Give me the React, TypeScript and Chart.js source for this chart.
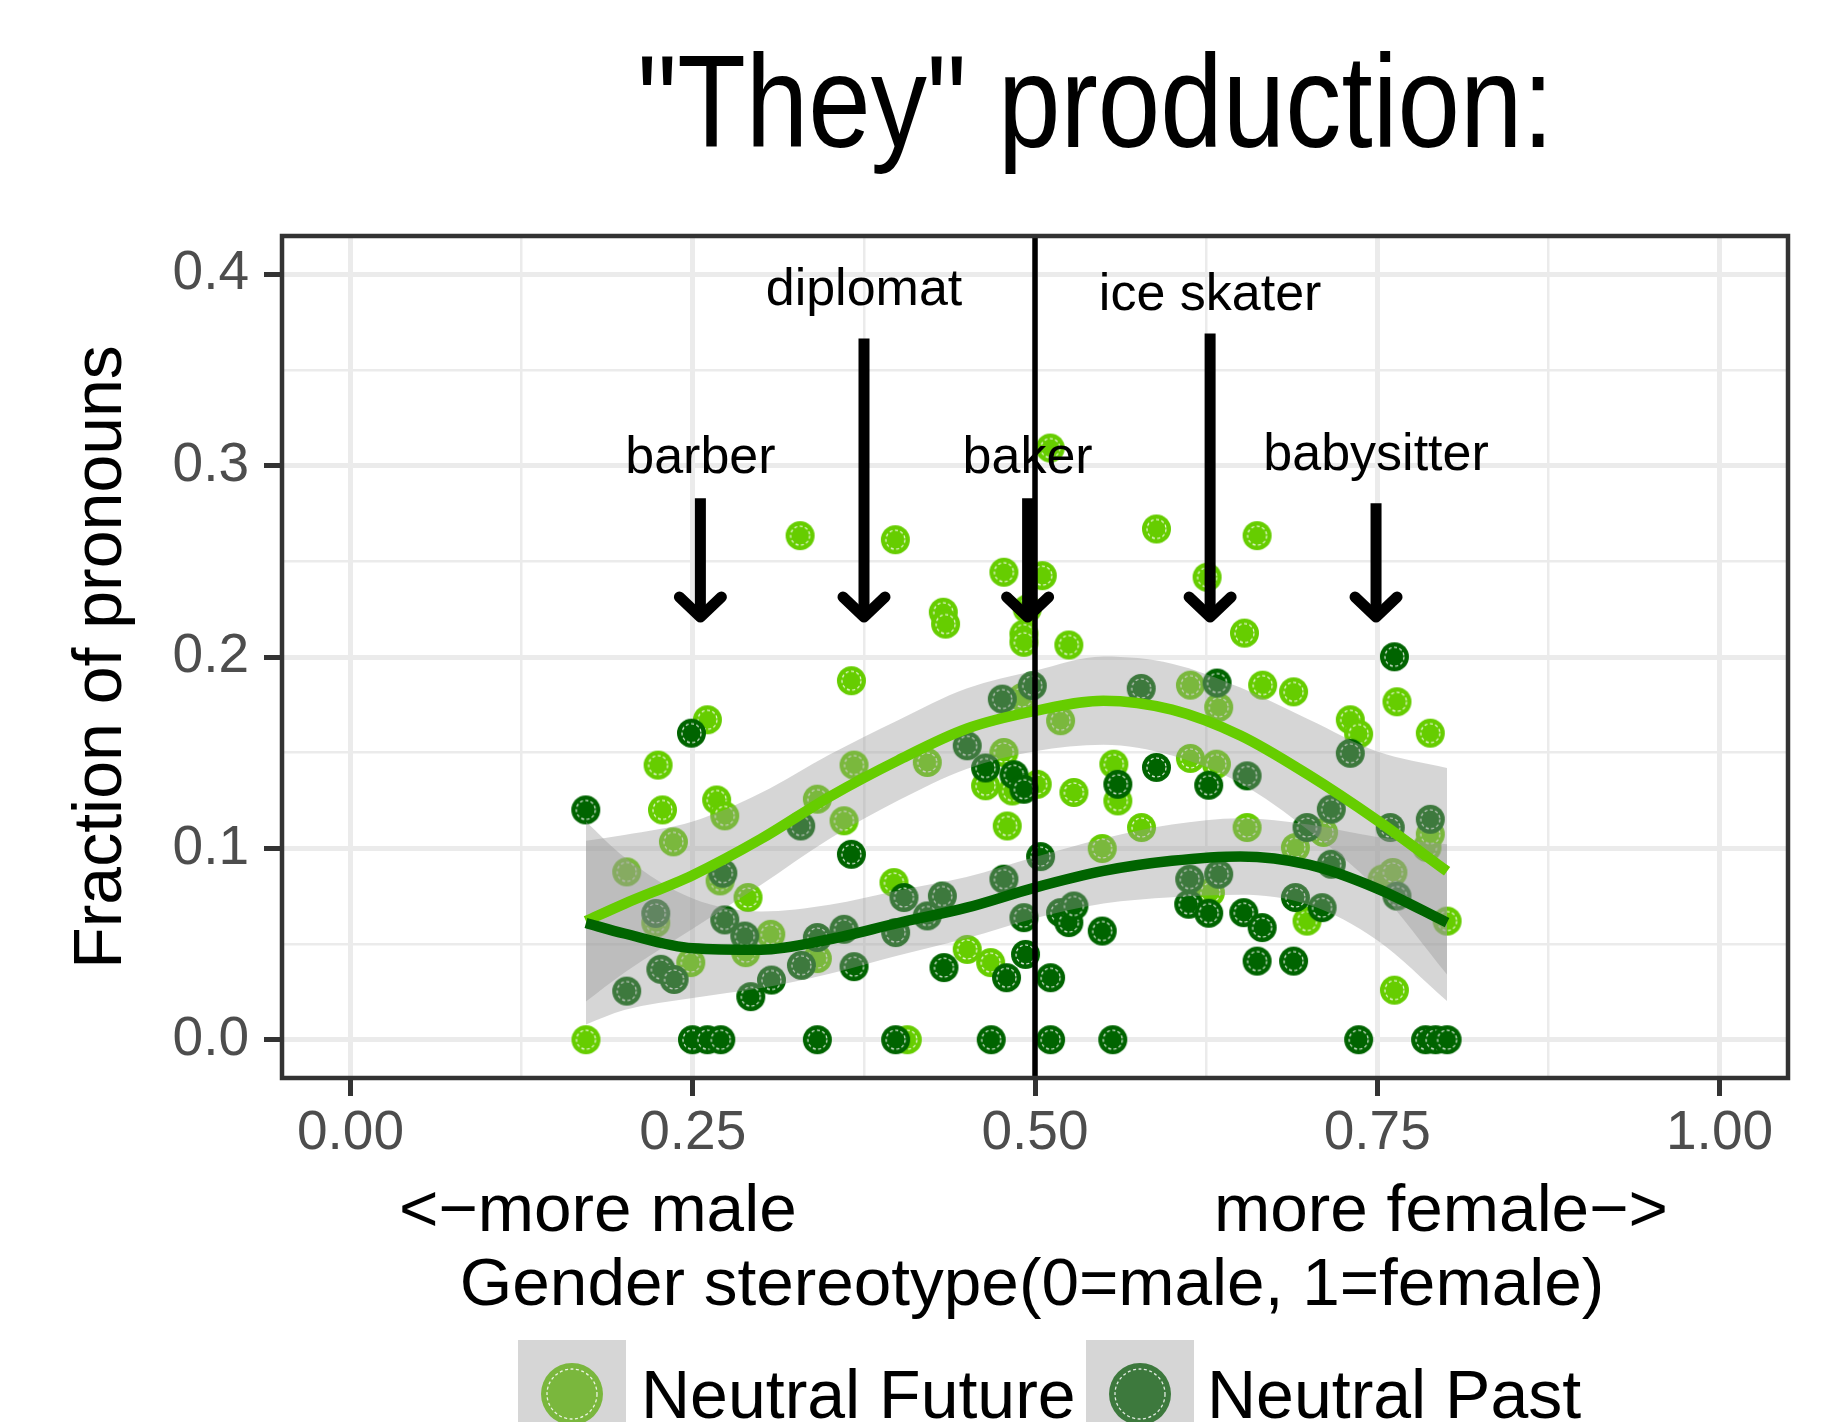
import React, { useEffect, useRef } from 'react';
import { Chart, registerables } from 'chart.js';

Chart.register(...registerables);

const FONT = '"Liberation Sans", Arial, Helvetica, sans-serif';

const titleText = '"They" production:';
const yAxisTitle = 'Fraction of pronouns';
const xAxisLeftNote = '<\u2212more male';
const xAxisRightNote = 'more female\u2212>';
const xAxisTitle = 'Gender stereotype(0=male, 1=female)';
const seriesNames = ['Neutral Future', 'Neutral Past'];

const xMajorTicks = [0, 0.25, 0.5, 0.75, 1];
const xMinorTicks = [0.125, 0.375, 0.625, 0.875];
const xTickLabels = ['0.00', '0.25', '0.50', '0.75', '1.00'];
const yMajorTicks = [0, 0.1, 0.2, 0.3, 0.4];
const yMinorTicks = [0.05, 0.15, 0.25, 0.35];
const yTickLabels = ['0.0', '0.1', '0.2', '0.3', '0.4'];

const futurePoints: [number, number][] = [
  [0.172, 0.0], [0.2018, 0.0877], [0.223, 0.061], [0.2247, 0.1435], [0.2279, 0.1201],
  [0.2359, 0.1034], [0.2486, 0.0403], [0.2607, 0.1672], [0.2675, 0.1253], [0.27, 0.083],
  [0.2734, 0.117], [0.2887, 0.0455], [0.2904, 0.0743], [0.307, 0.0551], [0.3284, 0.2634],
  [0.341, 0.1257], [0.341, 0.0424], [0.3605, 0.1144], [0.3659, 0.1876], [0.3678, 0.1435],
  [0.397, 0.0821], [0.398, 0.2613], [0.4067, 0.0], [0.4213, 0.1449], [0.433, 0.2234],
  [0.4347, 0.2172], [0.4505, 0.0472], [0.4639, 0.1327], [0.4676, 0.0403], [0.4773, 0.2443],
  [0.4773, 0.1501], [0.4797, 0.1117], [0.4834, 0.13], [0.4907, 0.1789], [0.4919, 0.212],
  [0.4919, 0.2077], [0.4943, 0.2251], [0.5016, 0.1335], [0.5053, 0.2425], [0.5111, 0.3092],
  [0.5187, 0.1667], [0.5247, 0.2063], [0.5284, 0.1292], [0.5491, 0.0999], [0.5576, 0.144],
  [0.5605, 0.1248], [0.5778, 0.1109], [0.5887, 0.2669], [0.6135, 0.1853], [0.6135, 0.147],
  [0.6257, 0.2417], [0.6281, 0.0769], [0.6325, 0.144], [0.6342, 0.1737], [0.653, 0.2125],
  [0.6549, 0.1109], [0.6622, 0.2634], [0.6663, 0.1853], [0.6889, 0.1818], [0.6902, 0.1004],
  [0.6987, 0.062], [0.7108, 0.1083], [0.7303, 0.1672], [0.7364, 0.1597], [0.7535, 0.0839],
  [0.7614, 0.0874], [0.7625, 0.0259], [0.7644, 0.1766], [0.7863, 0.1004], [0.7887, 0.1602],
  [0.7887, 0.1074], [0.801, 0.062],
];

const pastPoints: [number, number][] = [
  [0.1719, 0.1201], [0.2018, 0.0254], [0.223, 0.066], [0.2267, 0.0368], [0.2364, 0.0315],
  [0.2491, 0.1602], [0.2498, 0], [0.2607, 0], [0.2705, 0], [0.272, 0.087],
  [0.2734, 0.0626], [0.288, 0.0542], [0.2924, 0.0225], [0.3075, 0.0312], [0.3289, 0.1117],
  [0.3294, 0.0389], [0.341, 0.0534], [0.341, 0], [0.3605, 0.0577], [0.3659, 0.0969],
  [0.3678, 0.0382], [0.3982, 0.056], [0.3982, 0], [0.4043, 0.0743], [0.4213, 0.0647],
  [0.4323, 0.0751], [0.4335, 0.0377], [0.4505, 0.1536], [0.4639, 0.142], [0.468, 0],
  [0.4761, 0.178], [0.4773, 0.0839], [0.4792, 0.0324], [0.4846, 0.1385], [0.4919, 0.1309],
  [0.4919, 0.0638], [0.4931, 0.0446], [0.498, 0.185], [0.5041, 0.0957], [0.5114, 0.0324],
  [0.5114, 0], [0.5187, 0.0664], [0.5247, 0.0612], [0.5284, 0.0699], [0.5491, 0.0568],
  [0.5568, 0], [0.5605, 0.1335], [0.5776, 0.1836], [0.5887, 0.1423], [0.6123, 0.0708],
  [0.613, 0.0839], [0.6269, 0.133], [0.6269, 0.0661], [0.633, 0.1864], [0.6342, 0.0865],
  [0.6525, 0.0664], [0.6549, 0.1379], [0.6622, 0.0411], [0.6659, 0.0586], [0.6889, 0.0411],
  [0.6902, 0.0743], [0.6987, 0.1109], [0.7097, 0.069], [0.7164, 0.1205], [0.7164, 0.0917],
  [0.7303, 0.1497], [0.7364, 0], [0.7595, 0.1109], [0.7625, 0.2001], [0.7644, 0.0751],
  [0.7853, 0], [0.7887, 0.1152], [0.7926, 0], [0.801, 0],
];

const fitX = [0.172, 0.2, 0.25, 0.3, 0.35, 0.4, 0.45, 0.5, 0.55, 0.6, 0.65, 0.7, 0.75, 0.801];
const futureFit = [0.062, 0.071, 0.086, 0.105, 0.127, 0.146, 0.1625, 0.1718, 0.1772, 0.1725, 0.159, 0.1383, 0.1146, 0.088];
const futureUpper = [0.104, 0.107, 0.114, 0.129, 0.149, 0.167, 0.1835, 0.1928, 0.2002, 0.1965, 0.184, 0.1673, 0.1506, 0.142];
const futureLower = [0.02, 0.035, 0.058, 0.081, 0.105, 0.125, 0.1415, 0.1508, 0.1542, 0.1485, 0.134, 0.1093, 0.0786, 0.034];
const pastFit = [0.061, 0.0555, 0.0478, 0.047, 0.0525, 0.061, 0.069, 0.0795, 0.0882, 0.0935, 0.0958, 0.0915, 0.079, 0.0612];
const pastUpper = [0.114, 0.0955, 0.0738, 0.067, 0.0705, 0.078, 0.085, 0.0955, 0.1052, 0.1125, 0.1158, 0.1125, 0.106, 0.1022];
const pastLower = [0.008, 0.0155, 0.0218, 0.027, 0.0345, 0.044, 0.053, 0.0635, 0.0712, 0.0745, 0.0758, 0.0705, 0.052, 0.0202];

const refLineX = 0.5;
const annotationLabels = ['barber', 'diplomat', 'baker', 'ice skater', 'babysitter'];
const annotationX = [0.2556, 0.3751, 0.4946, 0.6279, 0.7491];
const labelBaselineY = [0.296, 0.3839, 0.296, 0.3813, 0.2977];
const arrowStartY = [0.2829, 0.3665, 0.2829, 0.3691, 0.2803];
const arrowEndY = [0.2209, 0.2209, 0.2209, 0.2209, 0.2209];

const FUTURE = '#66CD00';
const PAST = '#006400';
const RIBBON = 'rgba(153,153,153,0.4)';

function makeDot(color: string, r: number, ringR: number) {
  const c = document.createElement('canvas');
  const s = Math.ceil(2 * r + 4);
  c.width = s;
  c.height = s;
  const g = c.getContext('2d')!;
  g.fillStyle = color;
  g.beginPath();
  g.arc(s / 2, s / 2, r, 0, Math.PI * 2);
  g.fill();
  g.strokeStyle = 'rgba(255,255,255,0.9)';
  g.lineWidth = 1.2;
  g.setLineDash([3, 2.5]);
  g.beginPath();
  g.arc(s / 2, s / 2, ringR, 0, Math.PI * 2);
  g.stroke();
  return c;
}

const near = (arr: number[], v: number) => arr.findIndex((a) => Math.abs(a - v) < 1e-9);

export default function App() {
  const ref = useRef<HTMLCanvasElement>(null);

  useEffect(() => {
    const canvas = ref.current!;
    const futureDot = makeDot(FUTURE, 14.5, 9.5);
    const pastDot = makeDot(PAST, 14.5, 9.5);
    const xy = (xs: number[], ys: number[]) => xs.map((x, i) => ({ x, y: ys[i] }));
    const pts = (p: [number, number][]) => p.map(([x, y]) => ({ x, y }));

    const overlay = {
      id: 'overlay',
      afterDatasetsDraw(chart: any) {
        const { ctx, chartArea: a, scales } = chart;
        const xs = scales.x;
        const ys = scales.y;
        ctx.save();
        ctx.fillStyle = '#000';
        ctx.font = `52px ${FONT}`;
        ctx.textAlign = 'center';
        ctx.textBaseline = 'alphabetic';
        annotationLabels.forEach((t, i) => {
          ctx.fillText(t, xs.getPixelForValue(annotationX[i]), ys.getPixelForValue(labelBaselineY[i]));
        });
        ctx.strokeStyle = '#000';
        ctx.lineWidth = 5.5;
        ctx.lineCap = 'butt';
        const vx = xs.getPixelForValue(refLineX);
        ctx.beginPath();
        ctx.moveTo(vx, a.top);
        ctx.lineTo(vx, a.bottom);
        ctx.stroke();
        annotationX.forEach((xv, i) => {
          const px = xs.getPixelForValue(xv);
          const y1 = ys.getPixelForValue(arrowStartY[i]);
          const y2 = ys.getPixelForValue(arrowEndY[i]);
          ctx.lineWidth = 11;
          ctx.lineCap = 'butt';
          ctx.beginPath();
          ctx.moveTo(px, y1);
          ctx.lineTo(px, y2);
          ctx.stroke();
          ctx.lineCap = 'round';
          ctx.lineJoin = 'round';
          ctx.beginPath();
          ctx.moveTo(px - 21, y2 - 20);
          ctx.lineTo(px, y2);
          ctx.lineTo(px + 21, y2 - 20);
          ctx.stroke();
        });
        ctx.strokeStyle = '#333333';
        ctx.lineWidth = 4.5;
        ctx.lineCap = 'butt';
        ctx.lineJoin = 'miter';
        ctx.strokeRect(a.left, a.top, a.right - a.left, a.bottom - a.top);
        ctx.restore();
      },
      afterDraw(chart: any) {
        const { ctx } = chart;
        ctx.save();
        ctx.fillStyle = '#000';
        ctx.save();
        ctx.font = `132px ${FONT}`;
        ctx.textAlign = 'center';
        ctx.textBaseline = 'alphabetic';
        ctx.translate(1095.5, 146.7);
        ctx.scale(0.851, 1);
        ctx.fillText(titleText, 0, 0);
        ctx.restore();
        ctx.font = `67.5px ${FONT}`;
        ctx.textBaseline = 'alphabetic';
        ctx.textAlign = 'left';
        ctx.fillText(xAxisLeftNote, 399, 1231);
        ctx.textAlign = 'right';
        ctx.fillText(xAxisRightNote, 1668, 1231);
        ctx.textAlign = 'center';
        ctx.fillText(xAxisTitle, 1032, 1305);
        ctx.save();
        ctx.font = `68px ${FONT}`;
        ctx.translate(121, 657);
        ctx.rotate(-Math.PI / 2);
        ctx.textAlign = 'center';
        ctx.fillText(yAxisTitle, 0, 0);
        ctx.restore();
        const keys = [
          { x: 518, color: '#7AB73D', tx: 641 },
          { x: 1086, color: '#3D793D', tx: 1207 },
        ];
        keys.forEach((k, i) => {
          ctx.fillStyle = '#D6D6D6';
          ctx.fillRect(k.x, 1340, 108, 108);
          ctx.fillStyle = k.color;
          ctx.beginPath();
          ctx.arc(k.x + 54, 1394, 31, 0, Math.PI * 2);
          ctx.fill();
          ctx.save();
          ctx.strokeStyle = 'rgba(255,255,255,0.85)';
          ctx.lineWidth = 1.3;
          ctx.setLineDash([3, 2.5]);
          ctx.beginPath();
          ctx.arc(k.x + 54, 1394, 25, 0, Math.PI * 2);
          ctx.stroke();
          ctx.restore();
          ctx.fillStyle = '#000';
          ctx.textAlign = 'left';
          ctx.font = `68px ${FONT}`;
          ctx.fillText(seriesNames[i], k.tx, 1418);
        });
        ctx.restore();
      },
    };

    const chart = new Chart(canvas, {
      type: 'scatter',
      data: {
        datasets: [
          {
            label: 'pastFit', data: xy(fitX, pastFit), showLine: true, borderColor: PAST, borderWidth: 10.5,
            pointRadius: 0, cubicInterpolationMode: 'monotone', fill: false, order: 0,
          },
          {
            label: 'futureFit', data: xy(fitX, futureFit), showLine: true, borderColor: FUTURE, borderWidth: 10.5,
            pointRadius: 0, cubicInterpolationMode: 'monotone', fill: false, order: 0,
          },
          {
            label: 'futureUpper', data: xy(fitX, futureUpper), showLine: true, borderWidth: 0, borderColor: 'rgba(0,0,0,0)',
            backgroundColor: RIBBON, pointRadius: 0, cubicInterpolationMode: 'monotone', fill: '+1', order: 1,
          },
          {
            label: 'futureLower', data: xy(fitX, futureLower), showLine: true, borderWidth: 0, borderColor: 'rgba(0,0,0,0)',
            pointRadius: 0, cubicInterpolationMode: 'monotone', fill: false, order: 1,
          },
          {
            label: 'pastUpper', data: xy(fitX, pastUpper), showLine: true, borderWidth: 0, borderColor: 'rgba(0,0,0,0)',
            backgroundColor: RIBBON, pointRadius: 0, cubicInterpolationMode: 'monotone', fill: '+1', order: 1,
          },
          {
            label: 'pastLower', data: xy(fitX, pastLower), showLine: true, borderWidth: 0, borderColor: 'rgba(0,0,0,0)',
            pointRadius: 0, cubicInterpolationMode: 'monotone', fill: false, order: 1,
          },
          {
            label: seriesNames[1], data: pts(pastPoints), showLine: false, pointStyle: pastDot as any,
            pointRadius: 14.5, order: 2,
          },
          {
            label: seriesNames[0], data: pts(futurePoints), showLine: false, pointStyle: futureDot as any,
            pointRadius: 14.5, order: 3,
          },
        ] as any,
      },
      options: {
        responsive: false,
        maintainAspectRatio: false,
        devicePixelRatio: 1,
        animation: false,
        events: [],
        layout: { padding: { top: 236, right: 51, left: 0, bottom: 0 } },
        plugins: { legend: { display: false }, title: { display: false }, tooltip: { enabled: false } },
        scales: {
          x: {
            type: 'linear',
            min: -0.05,
            max: 1.05,
            afterBuildTicks: (s: any) => {
              s.ticks = [...xMajorTicks, ...xMinorTicks].sort((p, q) => p - q).map((v) => ({ value: v }));
            },
            afterFit: (s: any) => { s.height = 344; },
            ticks: {
              autoSkip: false, maxRotation: 0, minRotation: 0, padding: 5, color: '#4D4D4D',
              font: { family: FONT, size: 55 },
              callback: (v: any) => { const i = near(xMajorTicks, Number(v)); return i >= 0 ? xTickLabels[i] : ''; },
            },
            grid: {
              color: '#EBEBEB',
              lineWidth: (c: any) => (c.tick && near(xMajorTicks, c.tick.value) >= 0 ? 5 : 2.5),
              tickLength: 18,
              tickWidth: 5,
              tickColor: (c: any) => (c.tick && near(xMajorTicks, c.tick.value) >= 0 ? '#333333' : 'rgba(0,0,0,0)'),
            },
            border: { display: false },
          },
          y: {
            type: 'linear',
            min: -0.02,
            max: 0.42,
            afterBuildTicks: (s: any) => {
              s.ticks = [...yMajorTicks, ...yMinorTicks].sort((p, q) => p - q).map((v) => ({ value: v }));
            },
            afterFit: (s: any) => { s.width = 282; },
            ticks: {
              autoSkip: false, padding: 15, color: '#4D4D4D',
              font: { family: FONT, size: 55 },
              callback: (v: any) => { const i = near(yMajorTicks, Number(v)); return i >= 0 ? yTickLabels[i] : ''; },
            },
            grid: {
              color: '#EBEBEB',
              lineWidth: (c: any) => (c.tick && near(yMajorTicks, c.tick.value) >= 0 ? 5 : 2.5),
              tickLength: 18,
              tickWidth: 5,
              tickColor: (c: any) => (c.tick && near(yMajorTicks, c.tick.value) >= 0 ? '#333333' : 'rgba(0,0,0,0)'),
            },
            border: { display: false },
          },
        },
      } as any,
      plugins: [overlay],
    });
    return () => chart.destroy();
  }, []);

  return (
    <div style={{ position: 'absolute', left: 0, top: 0, width: 1839, height: 1422, background: '#fff', overflow: 'hidden' }}>
      <canvas ref={ref} width={1839} height={1422} style={{ display: 'block', width: 1839, height: 1422 }} />
    </div>
  );
}
